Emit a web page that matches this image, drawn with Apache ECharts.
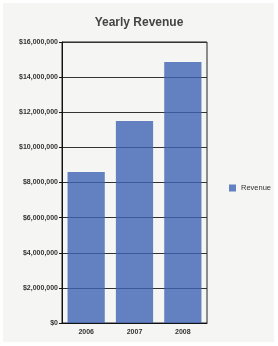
<!DOCTYPE html>
<html>
<head>
<meta charset="utf-8">
<script src="https://cdn.jsdelivr.net/npm/echarts@6/dist/echarts.min.js"></script>
<style>
  html, body { margin: 0; padding: 0; background: #ffffff; }
  .panel { position: absolute; left: 3px; top: 3px; width: 271px; height: 339px; background: #f5f5f3; }
  #chart { position: absolute; left: 0; top: 0; width: 278px; height: 346px; }
</style>
</head>
<body>
<div class="panel"></div>
<div id="chart"></div>
<script>
  // data
  var years = ['2006', '2007', '2008'];
  var revenue = [8600000, 11500000, 14860000];
  var yTicks = { min: 0, max: 16000000, step: 2000000 };

  var chart = echarts.init(document.getElementById('chart'));
  var font = '"Liberation Sans", Arial, sans-serif';

  function money(v) {
    return '$' + String(v).replace(/\B(?=(\d{3})+(?!\d))/g, ',');
  }

  var option = {
    animation: false,
    backgroundColor: 'transparent',
    title: {
      text: 'Yearly Revenue',
      left: 134,
      textAlign: 'center',
      top: 12,
      textStyle: { fontFamily: font, fontSize: 12, fontWeight: 'bold', color: '#444' }
    },
    legend: {
      data: ['Revenue'],
      left: 224,
      top: 179,
      icon: 'rect',
      itemWidth: 7,
      itemHeight: 7,
      textStyle: { fontFamily: font, fontSize: 7.5, color: '#333' }
    },
    grid: {
      left: 62,
      right: 71,
      top: 42,
      bottom: 23,
      show: true,
      borderColor: '#222',
      borderWidth: 1,
      backgroundColor: 'transparent'
    },
    xAxis: {
      type: 'category',
      data: years,
      axisLine: { lineStyle: { color: '#111', width: 1 } },
      axisTick: { show: false },
      axisLabel: { fontFamily: font, fontSize: 7, fontWeight: 'bold', color: '#333', margin: 6 }
    },
    yAxis: {
      type: 'value',
      min: yTicks.min,
      max: yTicks.max,
      interval: yTicks.step,
      axisLine: { show: true, lineStyle: { color: '#111', width: 1 } },
      axisTick: { show: true, length: 3, lineStyle: { color: '#111' } },
      axisLabel: {
        fontFamily: font, fontSize: 7, fontWeight: 'bold', color: '#333', margin: 4,
        formatter: money
      },
      splitLine: { show: true, lineStyle: { color: '#333', width: 1 } }
    },
    series: [{
      name: 'Revenue',
      type: 'bar',
      data: revenue,
      barCategoryGap: '23%',
      itemStyle: { color: '#3f64b3', opacity: 0.8 }
    }]
  };

  chart.setOption(option);
</script>
</body>
</html>
